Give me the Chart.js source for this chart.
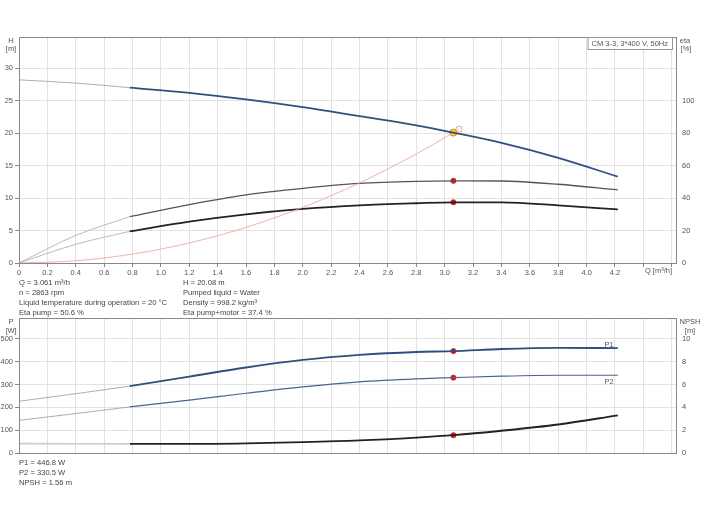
<!DOCTYPE html>
<html><head><meta charset="utf-8">
<script src="https://cdn.jsdelivr.net/npm/chart.js@4"></script>
<style>
body{margin:0;background:#fff;font-family:"Liberation Sans",Arial,sans-serif;}
#w{position:relative;width:704px;height:528px;}
canvas{position:absolute;left:0;}
.t{position:absolute;font-size:7.6px;color:#444;line-height:10px;white-space:pre;}
</style></head><body><div id="w">
<canvas id="c1" style="top:0px" width="704" height="280"></canvas>
<canvas id="c2" style="top:310px" width="704" height="150"></canvas>
<div class="t" style="left:19px;top:278px">Q = 3.061 m³/h
n = 2863 rpm
Liquid temperature during operation = 20 °C
Eta pump = 50.6 %</div>
<div class="t" style="left:183px;top:278px">H = 20.08 m
Pumped liquid = Water
Density = 998.2 kg/m³
Eta pump+motor = 37.4 %</div>
<div class="t" style="left:19px;top:458px">P1 = 446.8 W
P2 = 330.5 W
NPSH = 1.56 m</div>
</div>
<script>
const qMain=[0.78,1.2,1.6,2.0,2.4,2.8,3.061,3.4,3.8,4.22];
const qExt=[0,0.4,0.78];
const hMain=[27.0,26.2,25.2,24.0,22.6,21.2,20.08,18.5,16.2,13.3];
const hExt=[28.2,27.7,27.0];
const etaPMain=[28.5,36,42,46,49,50.3,50.6,50.5,48.5,45];
const etaPExt=[0,17,28.5];
const etaMMain=[19.5,25.5,30,33.3,35.5,36.8,37.4,37.3,35.5,33];
const etaMExt=[0,11.5,19.5];
const qSys=[0,0.4,0.8,1.2,1.6,2.0,2.4,2.8,3.061,3.1];
const hSys=[0,0.34,1.37,3.09,5.49,8.57,12.34,16.8,20.08,20.6];
const p1Main=[293,335,375,408,430,443,446.8,456,461,460];
const p1Ext=[227,260,293];
const p2Main=[202,232,262,290,312,325,330.5,337,341,341];
const p2Ext=[143,173,202];
const npshMain=[0.8,0.8,0.85,0.95,1.1,1.35,1.56,1.95,2.5,3.3];
const npshExt=[0.82,0.81,0.8];
const xTicks=[0,0.2,0.4,0.6,0.8,1.0,1.2,1.4,1.6,1.8,2.0,2.2,2.4,2.6,2.8,3.0,3.2,3.4,3.6,3.8,4.0,4.2,4.4,4.6];
const hTicks=[0,5,10,15,20,25,30];
const etaTicks=[0,20,40,60,80,100];
const pTicks=[0,100,200,300,400,500];
const npshTicks=[0,2,4,6,8,10];

const F={family:"Liberation Sans, Arial",size:7.5};
const pts=(xs,ys)=>xs.map((x,i)=>({x,y:ys[i]}));
const ds=(xs,ys,col,w,axis)=>({data:pts(xs,ys),borderColor:col,borderWidth:w,pointRadius:0,tension:0.4,cubicInterpolationMode:'monotone',yAxisID:axis,fill:false});
const dot=(x,y,axis,bg,bc,r)=>({data:[{x,y}],showLine:false,pointRadius:r,pointBackgroundColor:bg,pointBorderColor:bc,pointBorderWidth:1,yAxisID:axis});
function fix(w){return s=>{s.width=w;};}
function ticksFrom(arr){return s=>{s.ticks=arr.map(v=>({value:v}));};}
const grid={color:'#e2e2e2',tickColor:'#888',tickLength:4};
function xScale(showLabels){return {type:'linear',min:0,max:4.63,afterBuildTicks:ticksFrom(xTicks),
 grid:{color:'#e2e2e2',tickLength:showLabels?4:0,tickColor:'#888'},border:{color:'#888'},
 ticks:{display:showLabels,font:F,color:'#555',padding:1,maxRotation:0,autoSkip:false,callback:v=>v>4.3?'':(v===0?'0':v.toFixed(1))},
 afterFit:s=>{s.height=showLabels?17:0;}};}
function yL(max,arr){return {position:'left',min:0,max,afterBuildTicks:ticksFrom(arr),afterFit:fix(19),grid:grid,border:{color:'#888'},ticks:{font:F,color:'#555',padding:2}};}
function yR(max,arr){return {position:'right',min:0,max,afterBuildTicks:ticksFrom(arr),afterFit:fix(28),grid:{display:false,drawOnChartArea:false,tickLength:4,tickColor:'#888'},border:{color:'#888'},ticks:{font:F,color:'#555',padding:2}};}
function txt(items){return {id:'txt',afterDraw(c){const g=c.ctx;g.save();g.font='7.5px Liberation Sans, Arial';g.fillStyle='#555';
 items.forEach(([t,x,y,a])=>{g.textAlign=a||'left';g.fillText(t,x,y);});
 const a=c.chartArea;g.strokeStyle='#888';g.lineWidth=1;g.strokeRect(a.left+0.5,a.top+0.5,a.right-a.left,a.bottom-a.top);g.restore();}};}

new Chart(document.getElementById('c1'),{type:'line',
 data:{datasets:[
  ds(qExt,hExt,'#999',0.8,'y'),ds(qMain,hMain,'#2f4f80',1.8,'y'),
  ds(qSys,hSys,'#f0a090',0.8,'y'),
  ds(qExt,etaPExt,'#aaa',0.8,'y2'),ds(qMain,etaPMain,'#555',1.3,'y2'),
  ds(qExt,etaMExt,'#aaa',0.8,'y2'),ds(qMain,etaMMain,'#222',1.8,'y2'),
  dot(3.1,20.6,'y','rgba(0,0,0,0)','#f0a0a0',3),
  dot(3.061,50.6,'y2','#e81010','#e81010',2.5),dot(3.061,37.4,'y2','#e81010','#e81010',2.5),
  dot(3.061,20.08,'y','#ffd21e','#e08a00',3.5)]},
 options:{animation:false,responsive:false,plugins:{legend:{display:false},tooltip:{enabled:false}},
  layout:{padding:{top:37,left:0,right:0,bottom:0}},
  scales:{x:xScale(true),y:yL(34.8,hTicks),y2:yR(139.2,etaTicks)}},
 plugins:[txt([['H',11,43,'center'],['[m]',11,51,'center'],['eta',685,43,'center'],['[%]',686,51,'center'],['Q [m³/h]',672,273,'right']]),
  {id:'box',afterDraw(c){const g=c.ctx;g.save();g.font='7.5px Liberation Sans, Arial';const t='CM 3-3, 3*400 V, 50Hz';const w=g.measureText(t).width+8;
   g.fillStyle='#fff';g.fillRect(672-w,37,w,12);g.strokeStyle='#999';g.strokeRect(672.5-w,37.5,w,12);g.fillStyle='#555';g.fillText(t,676-w,46);g.restore();}}]
});

new Chart(document.getElementById('c2'),{type:'line',
 data:{datasets:[
  ds(qExt,p1Ext,'#999',0.8,'y'),ds(qMain,p1Main,'#2f4f80',1.8,'y'),
  ds(qExt,p2Ext,'#999',0.8,'y'),ds(qMain,p2Main,'#4a6590',1.2,'y'),
  ds(qExt,npshExt,'#ccc',1.6,'y2'),ds(qMain,npshMain,'#222',1.8,'y2'),
  dot(3.061,446.8,'y','#e81010','#e81010',2.5),dot(3.061,330.5,'y','#e81010','#e81010',2.5),dot(3.061,1.56,'y2','#e81010','#e81010',2.5)]},
 options:{animation:false,responsive:false,plugins:{legend:{display:false},tooltip:{enabled:false}},
  layout:{padding:{top:8,left:0,right:0,bottom:7}},
  scales:{x:xScale(false),y:yL(592,pTicks),y2:yR(11.84,npshTicks)}},
 plugins:[txt([['P',11,14,'center'],['[W]',11,23,'center'],['NPSH',690,14,'center'],['[m]',690,23,'center'],['P1',609,37,'center'],['P2',609,74,'center']])]
});
</script></body></html>
